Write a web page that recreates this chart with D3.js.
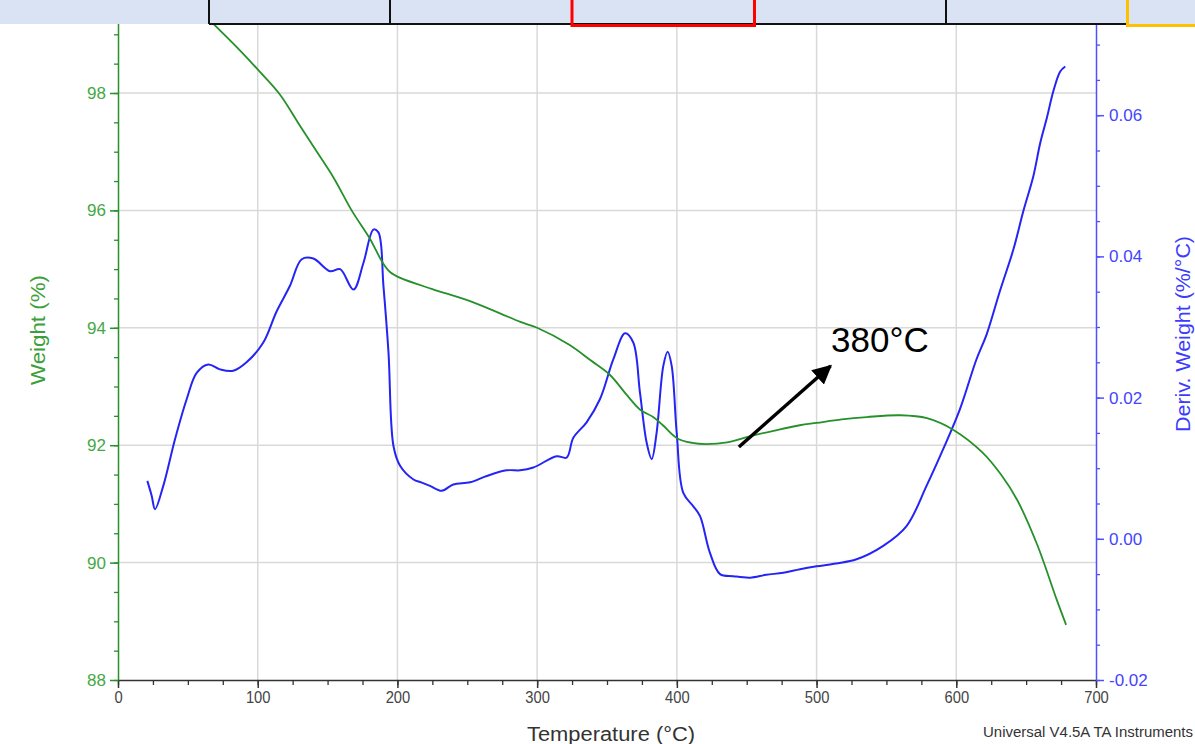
<!DOCTYPE html>
<html>
<head>
<meta charset="utf-8">
<script src="https://cdn.jsdelivr.net/npm/d3@7"></script>
<style>
  html, body { margin: 0; padding: 0; background: #fff; overflow: hidden; }
  svg { display: block; font-family: "Liberation Sans", Arial, sans-serif; }
</style>
</head>
<body>
<svg id="chart" width="1195" height="744"></svg>
<script>
// ---- data ----
const xTicks = [0, 100, 200, 300, 400, 500, 600, 700];
const weightTicks = [88, 90, 92, 94, 96, 98];
const derivTicks = [-0.02, 0.00, 0.02, 0.04, 0.06];

const weightTemp = [60, 69, 85, 101.6, 116, 130, 142, 154, 168, 180, 189.7, 194.7, 202, 225, 250, 273, 288, 300, 323, 338, 352, 364, 374, 383, 390, 400, 411, 421, 436, 452, 470, 488, 500, 518, 536, 560, 579, 598, 619, 632, 643.5, 658, 672, 678.6];
const weightVal  = [99.38, 99.16, 98.78, 98.36, 97.97, 97.45, 97.01, 96.57, 95.97, 95.53, 95.10, 94.95, 94.85, 94.66, 94.47, 94.25, 94.10, 94.00, 93.71, 93.45, 93.20, 92.86, 92.60, 92.48, 92.34, 92.12, 92.04, 92.02, 92.05, 92.15, 92.25, 92.34, 92.38, 92.44, 92.48, 92.51, 92.46, 92.26, 91.87, 91.50, 91.07, 90.30, 89.36, 88.94];

const derivTemp = [21, 24.1, 26.5, 32.4, 40.8, 49.2, 56.3, 64.6, 73, 82.5, 92, 104, 113.5, 123, 131.5, 139.8, 151.8, 159, 168.5, 175.7, 182.8, 186.4, 190, 193.6, 197.2, 202, 211.5, 217, 223.3, 231.7, 240, 252, 263.9, 278.2, 287.8, 297.3, 314, 321.1, 325.9, 335.4, 345, 354.5, 362.9, 368.8, 373.6, 378.4, 382, 385.5, 390.3, 393.4, 396.3, 399.9, 404.6, 411.8, 416.6, 423.7, 430.9, 440.4, 452.4, 464, 476.2, 488.2, 500, 514, 528.6, 547.7, 564.4, 578.7, 590.6, 602.5, 614.4, 621.8, 631.4, 640.9, 648.1, 655.2, 660, 664.8, 669.6, 674.4, 678];
const derivVal  = [0.0082, 0.0061, 0.0042, 0.0075, 0.0141, 0.0198, 0.0235, 0.0247, 0.0240, 0.0238, 0.0250, 0.0278, 0.0322, 0.0358, 0.0396, 0.0397, 0.0379, 0.0382, 0.0353, 0.0391, 0.0438, 0.0434, 0.0358, 0.0264, 0.0131, 0.0103, 0.0084, 0.0080, 0.0075, 0.0068, 0.0077, 0.0080, 0.0089, 0.0097, 0.0097, 0.0101, 0.0117, 0.0115, 0.0143, 0.0165, 0.0198, 0.0254, 0.0291, 0.0278, 0.0207, 0.0136, 0.0113, 0.0150, 0.0245, 0.0265, 0.0245, 0.0150, 0.0065, 0.0046, 0.0032, -0.0020, -0.0050, -0.0053, -0.0055, -0.0051, -0.0048, -0.0043, -0.0039, -0.0035, -0.0029, -0.0010, 0.0018, 0.0075, 0.0127, 0.0183, 0.0254, 0.0290, 0.0352, 0.0410, 0.0465, 0.0514, 0.0560, 0.0596, 0.0635, 0.0662, 0.0669];

const annotationText = "380°C";

// ---- layout ----
const svg = d3.select("#chart");
const mLeft = 118, mRight = 1096, mTop = 20, mBottom = 680;

const x = d3.scaleLinear().domain([0, 700]).range([mLeft, mRight]);
const yW = d3.scaleLinear().domain([88, 88 + (mBottom - mTop) / 58.7]).range([mBottom, mTop]);
const yD = d3.scaleLinear().domain([-0.02, -0.02 + (mBottom - mTop) / 7060]).range([mBottom, mTop]);

const green = "#26902a", blue = "#2424f5";

// grid
const grid = svg.append("g");
grid.selectAll("line.v").data(xTicks.filter(t => t > 0 && t < 700)).join("line")
  .attr("class", "v")
  .attr("x1", d => x(d)).attr("x2", d => x(d)).attr("y1", mTop).attr("y2", mBottom)
  .attr("stroke", "#d9d9d9").attr("stroke-width", 1.5);
grid.selectAll("line.h").data(weightTicks.filter(t => t > 88)).join("line")
  .attr("class", "h")
  .attr("x1", mLeft).attr("x2", mRight).attr("y1", d => yW(d)).attr("y2", d => yW(d))
  .attr("stroke", "#d9d9d9").attr("stroke-width", 1.5);

// axes
function styleAxis(g, color, textColor, size) {
  g.select(".domain").attr("stroke", color).attr("stroke-width", 1.5);
  g.selectAll(".tick line").attr("stroke", color).attr("stroke-width", 1.5);
  g.selectAll(".tick text").attr("fill", textColor).style("font-size", size + "px")
    .style("font-family", "'Liberation Sans', Arial, sans-serif");
}

// minor ticks
const xMinor = d3.range(0, 701, 25);
const wMinor = d3.range(88, 99.3, 0.5);
const dMinor = d3.range(-0.02, 0.0735, 0.005);

const gxMinor = svg.append("g").attr("transform", `translate(0,${mBottom})`)
  .call(d3.axisBottom(x).tickValues(xMinor).tickSize(5).tickFormat(""));
gxMinor.select(".domain").remove();
gxMinor.selectAll(".tick line").attr("stroke", "#333").attr("stroke-width", 1.3);

const gwMinor = svg.append("g").attr("transform", `translate(${mLeft},0)`)
  .call(d3.axisLeft(yW).tickValues(wMinor).tickSize(4).tickFormat(""));
gwMinor.select(".domain").remove();
gwMinor.selectAll(".tick line").attr("stroke", green).attr("stroke-width", 1.3);

const gdMinor = svg.append("g").attr("transform", `translate(${mRight},0)`)
  .call(d3.axisRight(yD).tickValues(dMinor).tickSize(4).tickFormat(""));
gdMinor.select(".domain").remove();
gdMinor.selectAll(".tick line").attr("stroke", "#5050ff").attr("stroke-width", 1.3);

const gx = svg.append("g").attr("transform", `translate(0,${mBottom})`)
  .call(d3.axisBottom(x).tickValues(xTicks).tickSize(8).tickSizeOuter(0).tickPadding(3).tickFormat(d3.format("d")));
styleAxis(gx, "#333", "#444", 17);
gx.selectAll(".tick text")
  .attr("textLength", d => String(d).length * 8.2)
  .attr("lengthAdjust", "spacingAndGlyphs");

const gw = svg.append("g").attr("transform", `translate(${mLeft},0)`)
  .call(d3.axisLeft(yW).tickValues(weightTicks).tickSize(8).tickSizeOuter(0).tickPadding(4).tickFormat(d3.format("d")));
styleAxis(gw, green, "#45a845", 17);

const gd = svg.append("g").attr("transform", `translate(${mRight},0)`)
  .call(d3.axisRight(yD).tickValues(derivTicks).tickSize(8).tickSizeOuter(0).tickPadding(5).tickFormat(d3.format(".2f")));
styleAxis(gd, "#5050ff", "#4444ff", 17);
gd.selectAll(".tick text").text(d => d3.format(".2f")(d).replace("\u2212", "-"));

// curves
const wData = weightTemp.map((t, i) => [t, weightVal[i]]);
const dData = derivTemp.map((t, i) => [t, derivVal[i]]);

const defs = svg.append("defs");
defs.append("clipPath").attr("id", "plotclip")
  .append("rect").attr("x", mLeft).attr("y", 0).attr("width", mRight - mLeft).attr("height", mBottom);

svg.append("path").datum(dData)
  .attr("clip-path", "url(#plotclip)")
  .attr("fill", "none").attr("stroke", blue).attr("stroke-width", 2)
  .attr("d", d3.line().x(d => x(d[0])).y(d => yD(d[1])).curve(d3.curveCatmullRom.alpha(0.5)));

svg.append("path").datum(wData)
  .attr("clip-path", "url(#plotclip)")
  .attr("fill", "none").attr("stroke", green).attr("stroke-width", 1.8)
  .attr("d", d3.line().x(d => x(d[0])).y(d => yW(d[1])).curve(d3.curveCatmullRom.alpha(0.5)));

// axis titles
svg.append("text").attr("x", 611).attr("y", 741)
  .attr("text-anchor", "middle").attr("fill", "#333").style("font-size", "20px")
  .attr("textLength", 168).attr("lengthAdjust", "spacingAndGlyphs")
  .text("Temperature (°C)");
svg.append("text").attr("transform", `translate(45,330) rotate(-90)`)
  .attr("text-anchor", "middle").attr("fill", "#3aa03a").style("font-size", "21px")
  .attr("textLength", 110).attr("lengthAdjust", "spacingAndGlyphs")
  .text("Weight (%)");
svg.append("text").attr("transform", `translate(1190,334) rotate(-90)`)
  .attr("text-anchor", "middle").attr("fill", "#3c3cff").style("font-size", "20px")
  .attr("textLength", 196).attr("lengthAdjust", "spacingAndGlyphs")
  .text("Deriv. Weight (%/°C)");
svg.append("text").attr("x", 983).attr("y", 737)
  .attr("fill", "#333").style("font-size", "14px")
  .attr("textLength", 210).attr("lengthAdjust", "spacingAndGlyphs")
  .text("Universal V4.5A TA Instruments");

// annotation arrow (anchored on data coordinates)
defs.append("marker").attr("id", "arrow").attr("viewBox", "0 0 10 10")
  .attr("refX", 9).attr("refY", 5).attr("markerWidth", 5.5).attr("markerHeight", 5.5)
  .attr("orient", "auto").attr("markerUnits", "strokeWidth")
  .append("path").attr("d", "M0,0 L10,5 L0,10 z").attr("fill", "#000");
const arrowFrom = [444.4, 91.97], arrowTo = [510, 93.35];
svg.append("line")
  .attr("x1", x(arrowFrom[0])).attr("y1", yW(arrowFrom[1]))
  .attr("x2", x(arrowTo[0])).attr("y2", yW(arrowTo[1]))
  .attr("stroke", "#000").attr("stroke-width", 3.5).attr("marker-end", "url(#arrow)");
svg.append("text").attr("x", 831).attr("y", 352)
  .attr("fill", "#000").style("font-size", "35px").text(annotationText);

// top banner (table-like strip)
const band = svg.append("g");
band.append("rect").attr("x", 0).attr("y", 0).attr("width", 1195).attr("height", 24).attr("fill", "#dae3f3");
band.append("line").attr("x1", 209).attr("x2", 1127).attr("y1", 24).attr("y2", 24).attr("stroke", "#111").attr("stroke-width", 2);
[209, 390, 946].forEach(v => band.append("line").attr("x1", v).attr("x2", v).attr("y1", 0).attr("y2", 24).attr("stroke", "#111").attr("stroke-width", 2));
band.append("path").attr("d", "M572,0 V25.5 H754.5 V0").attr("fill", "none").attr("stroke", "#ff0000").attr("stroke-width", 3);
band.append("path").attr("d", "M1127.5,0 V25.5 H1200").attr("fill", "none").attr("stroke", "#ffc000").attr("stroke-width", 3);
</script>
</body>
</html>
